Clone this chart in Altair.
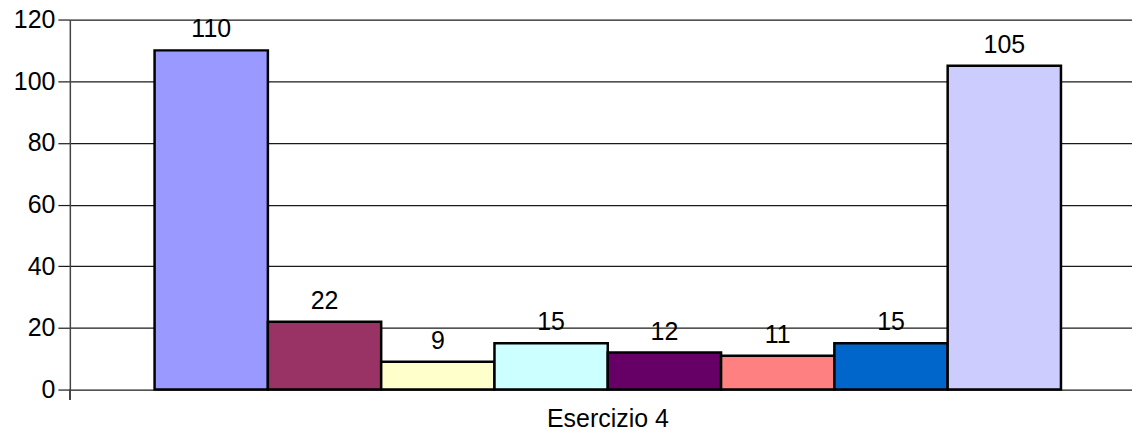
import altair as alt
import pandas as pd

series = ["Serie 1", "Serie 2", "Serie 3", "Serie 4", "Serie 5", "Serie 6", "Serie 7", "Serie 8"]
values = [110, 22, 9, 15, 12, 11, 15, 105]
colors = ["#9999FF", "#993366", "#FFFFCC", "#CCFFFF", "#660066", "#FF8080", "#0066CC", "#CCCCFF"]
category = "Esercizio 4"
y_ticks = [0, 20, 40, 60, 80, 100, 120]

df = pd.DataFrame({"serie": series, "valore": values})

FONT = "Liberation Sans"
FS = 25

x_enc = alt.X(
    "serie:N",
    sort=series,
    scale=alt.Scale(paddingInner=0, paddingOuter=0.6875, align=0.544),
    axis=alt.Axis(
        labels=False, ticks=False, domain=False, grid=False,
        title=category, titleFont=FONT, titleFontSize=FS, titleFontWeight="normal",
        titleColor="#000000", titleBaseline="alphabetic", titleY=37, titleX=539,
        titleAlign="center",
    ),
)
y_enc = alt.Y(
    "valore:Q",
    scale=alt.Scale(domain=[0, 120], nice=False),
    axis=alt.Axis(
        values=y_ticks, title=None, grid=True, gridColor="#1a1a1a", gridWidth=1.2,
        gridOpacity=1, domain=True, domainColor="#444444", domainWidth=1.5,
        tickColor="#1a1a1a", tickSize=12, tickWidth=1.2, labelFont=FONT,
        labelFontSize=FS, labelColor="#000000", labelPadding=3,
    ),
)

bars = alt.Chart(df).mark_bar(stroke="#000000", strokeWidth=2.5).encode(
    x=x_enc,
    y=y_enc,
    color=alt.Color("serie:N", scale=alt.Scale(domain=series, range=colors), legend=None),
)

labels = alt.Chart(df).mark_text(
    font=FONT, fontSize=FS, color="#000000", baseline="bottom", dy=-8
).encode(
    x=alt.X("serie:N", sort=series),
    y=alt.Y("valore:Q"),
    text=alt.Text("valore:Q"),
)

stub = alt.Chart(df).mark_rule(color="#444444", strokeWidth=1.5).encode(
    x=alt.value(0), y=alt.value(371), y2=alt.value(381)
)

chart = alt.layer(bars, labels, stub).properties(
    width=1065, height=371,
    padding={"left": 62, "top": 11, "right": 0, "bottom": 48},
    autosize=alt.AutoSizeParams(type="none"),
).configure_view(stroke=None)

chart.save("out.html", embed_options={"renderer": "svg", "actions": False})
